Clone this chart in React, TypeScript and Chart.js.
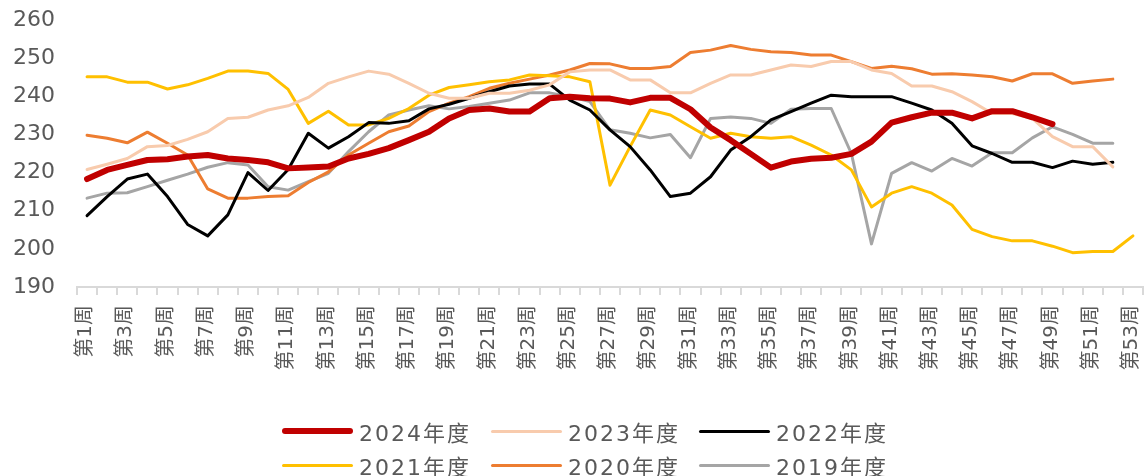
import React, { useEffect, useRef } from "react";
import { Chart, registerables } from "chart.js";

Chart.register(...registerables);

const weeks = [
  "第1周", "第2周", "第3周", "第4周", "第5周", "第6周", "第7周", "第8周", "第9周", "第10周",
  "第11周", "第12周", "第13周", "第14周", "第15周", "第16周", "第17周", "第18周", "第19周", "第20周",
  "第21周", "第22周", "第23周", "第24周", "第25周", "第26周", "第27周", "第28周", "第29周", "第30周",
  "第31周", "第32周", "第33周", "第34周", "第35周", "第36周", "第37周", "第38周", "第39周", "第40周",
  "第41周", "第42周", "第43周", "第44周", "第45周", "第46周", "第47周", "第48周", "第49周", "第50周",
  "第51周", "第52周", "第53周",
];

const yTicks = [190, 200, 210, 220, 230, 240, 250, 260];

const s2024 = [
  218.3, 220.7, 222.0, 223.3, 223.5, 224.2, 224.6, 223.7, 223.3, 222.7,
  221.1, 221.3, 221.6, 223.7, 224.9, 226.4, 228.5, 230.7, 234.2, 236.4,
  236.8, 236.0, 236.0, 239.5, 239.9, 239.5, 239.4, 238.4, 239.6, 239.6,
  236.6, 231.8, 228.5, 224.9, 221.3, 222.9, 223.6, 223.9, 224.9, 228.1,
  233.1, 234.5, 235.7, 235.7, 234.2, 236.1, 236.1, 234.5, 232.7,
];

const s2023 = [
  220.8, 222.2, 223.7, 226.8, 227.1, 228.7, 230.7, 234.2, 234.5, 236.4,
  237.5, 239.7, 243.4, 245.1, 246.6, 245.8, 243.4, 240.8, 239.5, 239.5,
  240.8, 240.8, 241.6, 243.0, 246.4, 246.9, 246.9, 244.3, 244.3, 240.9,
  240.9, 243.4, 245.6, 245.6, 246.9, 248.2, 247.8, 249.1, 249.1, 246.9,
  246.0, 242.7, 242.7, 241.2, 238.6, 235.5, 235.5, 234.2, 229.4, 226.8,
  226.8, 221.5,
];

const s2022 = [
  208.7, 213.7, 218.3, 219.6, 213.7, 206.4, 203.4, 208.9, 220.0, 215.3,
  220.8, 230.3, 226.4, 229.4, 233.1, 232.9, 233.6, 236.7, 237.9, 239.5,
  241.2, 242.7, 243.2, 243.2, 239.0, 236.4, 231.2, 226.8, 220.7, 213.7,
  214.6, 218.9, 225.9, 229.4, 233.8, 236.0, 238.2, 240.3, 239.9, 239.9,
  239.9, 238.2, 236.4, 232.9, 227.0, 225.0, 222.7, 222.7, 221.3, 223.0,
  222.2, 222.7,
];

const s2021 = [
  245.1, 245.1, 243.7, 243.7, 241.9, 243.0, 244.7, 246.6, 246.6, 246.0,
  241.8, 232.9, 236.1, 232.5, 232.5, 234.2, 236.8, 240.3, 242.3, 243.0,
  243.8, 244.3, 245.6, 245.4, 245.1, 243.8, 216.7, 226.8, 236.4, 235.1,
  232.0, 229.0, 230.3, 229.4, 229.0, 229.4, 227.2, 224.6, 220.7, 211.0,
  214.6, 216.3, 214.6, 211.5, 205.1, 203.2, 202.1, 202.1, 200.7, 199.0,
  199.3, 199.3, 203.4,
];

const s2020 = [
  229.8, 229.0, 227.8, 230.6, 227.7, 224.6, 215.7, 213.3, 213.3, 213.7,
  213.9, 217.4, 220.2, 224.6, 227.7, 230.7, 232.2, 236.0, 238.2, 239.9,
  242.1, 243.4, 244.5, 245.6, 246.9, 248.6, 248.5, 247.3, 247.3, 247.8,
  251.5, 252.1, 253.3, 252.3, 251.7, 251.5, 250.8, 250.8, 249.1, 247.3,
  247.9, 247.2, 245.8, 245.9, 245.6, 245.1, 244.0, 245.9, 245.9, 243.4,
  244.0, 244.5,
];

const s2019 = [
  213.3, 214.6, 214.7, 216.3, 218.0, 219.6, 221.4, 222.6, 222.0, 216.3,
  215.4, 217.6, 219.8, 225.5, 230.7, 235.1, 236.4, 237.5, 236.7, 237.3,
  238.2, 239.0, 240.9, 240.9, 239.9, 238.6, 231.2, 230.3, 229.1, 230.0,
  223.9, 234.2, 234.6, 234.2, 232.9, 236.6, 236.8, 236.8, 225.0, 201.3,
  219.8, 222.6, 220.4, 223.7, 221.7, 225.2, 225.2, 229.1, 232.0, 230.0,
  227.7, 227.7,
];

const seriesLabels = ["2024年度", "2023年度", "2022年度", "2021年度", "2020年度", "2019年度"];
const seriesData = [s2024, s2023, s2022, s2021, s2020, s2019];
const seriesColors = ["#C00000", "#F8CBAD", "#000000", "#FFC000", "#ED7D31", "#A5A5A5"];
const seriesWidths = [6, 3, 3, 3, 3, 3];

const FONT = "'DejaVu Sans', 'Noto Sans CJK SC', sans-serif";
const TEXT = "#595959";

// Draws the rotated category labels (reading bottom-to-top, top-aligned under the axis)
const xLabelPlugin = {
  id: "xLabelsRotated",
  afterDraw(chart: any) {
    const xs = chart.scales.x;
    const ctx = chart.ctx as CanvasRenderingContext2D;
    ctx.save();
    ctx.fillStyle = TEXT;
    ctx.font = `20px ${FONT}`;
    ctx.textAlign = "right";
    ctx.textBaseline = "middle";
    weeks.forEach((w, i) => {
      if (i % 2 !== 0) return;
      const x = xs.getPixelForTick(i) - 1;
      ctx.save();
      ctx.translate(x, xs.top + 18);
      ctx.rotate(-Math.PI / 2);
      ctx.fillText(w, 0, 0);
      ctx.restore();
    });
    ctx.restore();
  },
};

export default function App() {
  const ref = useRef<HTMLCanvasElement | null>(null);

  useEffect(() => {
    if (!ref.current) return;
    const chart = new Chart(ref.current, {
      type: "line",
      data: {
        labels: weeks,
        datasets: seriesLabels.map((label, i) => ({
          label,
          data: seriesData[i],
          borderColor: seriesColors[i],
          backgroundColor: seriesColors[i],
          borderWidth: seriesWidths[i],
          pointRadius: 0,
          pointHoverRadius: 0,
          tension: 0,
          fill: false,
          borderJoinStyle: "round" as const,
          borderCapStyle: "round" as const,
        })),
      },
      options: {
        animation: false,
        responsive: false,
        devicePixelRatio: 1,
        layout: { padding: { top: 20, left: 13, right: 2, bottom: 89 } },
        plugins: {
          legend: { display: false },
          tooltip: { enabled: false },
        },
        scales: {
          x: {
            offset: true,
            grid: {
              display: true,
              offset: true,
              drawOnChartArea: false,
              drawTicks: true,
              tickLength: 8,
              color: "#d9d9d9",
              lineWidth: 2,
            },
            border: { display: true, color: "#d9d9d9", width: 2 },
            ticks: {
              display: false,
              autoSkip: false,
            },
            afterFit: (s: any) => {
              s.height = 100;
            },
          },
          y: {
            min: 190,
            max: 260,
            afterBuildTicks: (s: any) => {
              s.ticks = yTicks.map((v) => ({ value: v }));
            },
            ticks: {
              stepSize: 10,
              padding: 0,
              crossAlign: "far",
              color: TEXT,
              font: { family: FONT, size: 22 },
            },
            grid: { display: false, drawTicks: false },
            border: { display: false },
            afterFit: (s: any) => {
              s.width = 64;
            },
          },
        },
      },
      plugins: [xLabelPlugin],
    });
    return () => chart.destroy();
  }, []);

  const legendLeft = [282, 491, 699];
  const legendRowY = [431, 465];

  return (
    <div
      style={{
        position: "absolute",
        left: 0,
        top: 0,
        width: 1145,
        height: 476,
        background: "#fff",
        overflow: "hidden",
      }}
    >
      <canvas ref={ref} width={1145} height={476} style={{ display: "block" }} />
      {seriesLabels.map((label, i) => {
        const col = i % 3;
        const row = Math.floor(i / 3);
        return (
          <div
            key={label}
            style={{
              position: "absolute",
              left: legendLeft[col],
              top: legendRowY[row] - 15,
              height: 30,
              display: "flex",
              alignItems: "center",
              fontFamily: FONT,
              fontSize: 22,
              letterSpacing: "2px",
              color: TEXT,
              whiteSpace: "nowrap",
            }}
          >
            <span
              style={{
                display: "inline-block",
                width: 71,
                height: seriesWidths[i] === 6 ? 6 : 3,
                background: seriesColors[i],
                borderRadius: 3,
                marginRight: 6,
              }}
            />
            <span>{label}</span>
          </div>
        );
      })}
    </div>
  );
}
